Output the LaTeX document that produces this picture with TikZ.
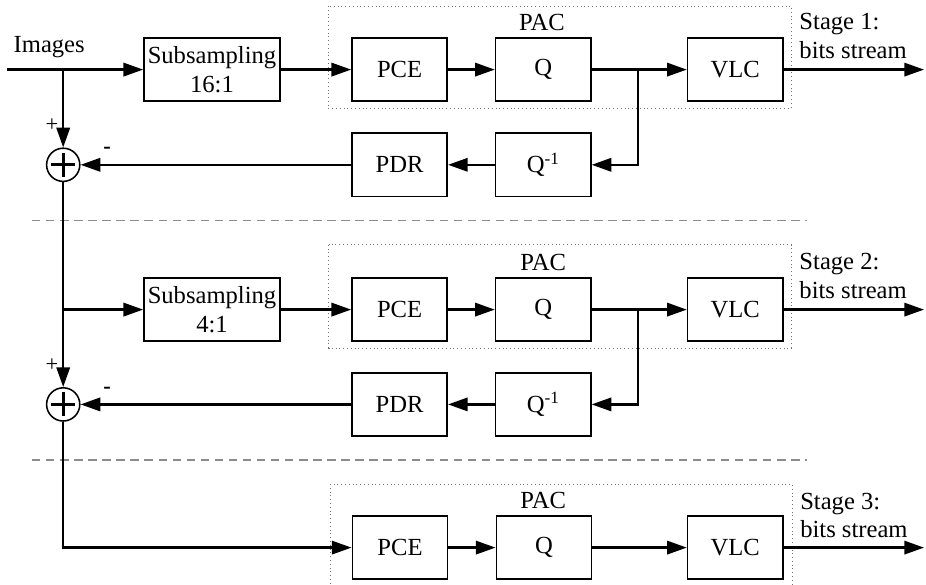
\documentclass[tikz,border=0pt]{standalone}
\usepackage{fontspec}
\setmainfont{Liberation Serif}
\usetikzlibrary{arrows.meta}

\begin{document}
\begin{tikzpicture}[
    >={Triangle[length=14pt,width=9.5pt]},
    block/.style={
        draw=black,
        line width=1.2pt,
        minimum width=2.38cm,
        minimum height=1.58cm,
        align=center,
        inner sep=1pt,
        font=\fontsize{17.5}{20.5}\selectfont
    },
    wideblock/.style={block, minimum width=3.4cm},
    adder/.style={
        circle,
        draw=black,
        line width=1.1pt,
        minimum size=0.83cm,
        inner sep=0pt,
        path picture={
            \draw[line width=2pt]
                ([xshift=-0.3cm]path picture bounding box.center) -- ([xshift=0.3cm]path picture bounding box.center)
                ([yshift=-0.3cm]path picture bounding box.center) -- ([yshift=0.3cm]path picture bounding box.center);
        }
    },
    pacbox/.style={draw=black!55, dotted, line width=0.7pt},
    divider/.style={draw=black!45, dash pattern=on 6pt off 4pt, line width=0.8pt},
    txt/.style={font=\fontsize{17.5}{20}\selectfont, align=left, inner sep=0pt},
    sign/.style={font=\fontsize{16}{16}\selectfont, inner sep=0pt},
    arr/.style={->, line width=1.6pt},
    wire/.style={line width=1.6pt}
]
    \useasboundingbox (0,0) rectangle (23.15,-14.6);

    % stage 1
    \draw[pacbox] (8.2,-0.15) rectangle (19.78,-2.7);
    \node[txt] (pac1) at (13.55,-0.55) {PAC};
    \node[txt] (images) at (1.23,-1.17) {Images};
    \coordinate (in) at (0.18,-1.74);
    \coordinate (j1) at (1.58,-1.74);
    \node[wideblock] (sub1) at (5.3,-1.74) {Subsampling\\16:1};
    \node[block] (pce1) at (9.99,-1.74) {PCE};
    \node[block] (q1) at (13.58,-1.74) {Q};
    \coordinate (b1) at (15.95,-1.74);
    \node[block] (vlc1) at (18.38,-1.74) {VLC};
    \coordinate (out1) at (23.1,-1.74);
    \node[txt, anchor=west] (stage1) at (19.98,-0.9) {Stage 1:\\bits stream};

    \node[block] (qi1) at (13.58,-4.12) {Q\textsuperscript{-1}};
    \node[block] (pdr1) at (9.99,-4.12) {PDR};
    \node[adder] (s1) at (1.58,-4.12) {};
    \node[sign] (plus1) at (1.3,-3.14) {+};
    \node[sign] (minus1) at (2.68,-3.76) {\textbf{-}};

    \draw[arr] (in) -- (sub1);
    \draw[arr] (sub1) -- (pce1);
    \draw[arr] (pce1) -- (q1);
    \draw[arr] (q1) -- (vlc1);
    \draw[arr] (vlc1) -- (out1);
    \draw[arr] (j1) -- (s1);
    \draw[arr] (b1) |- (qi1);
    \draw[arr] (qi1) -- (pdr1);
    \draw[arr] (pdr1) -- (s1);

    \draw[divider] (0.8,-5.52) -- (20.18,-5.52);

    % stage 2
    \draw[pacbox] (8.22,-6.12) rectangle (19.78,-8.7);
    \node[txt] (pac2) at (13.58,-6.55) {PAC};
    \coordinate (j2) at (1.58,-7.74);
    \node[wideblock] (sub2) at (5.3,-7.74) {Subsampling\\4:1};
    \node[block] (pce2) at (9.99,-7.74) {PCE};
    \node[block] (q2) at (13.58,-7.74) {Q};
    \coordinate (b2) at (15.95,-7.74);
    \node[block] (vlc2) at (18.38,-7.74) {VLC};
    \coordinate (out2) at (23.1,-7.74);
    \node[txt, anchor=west] (stage2) at (19.98,-6.9) {Stage 2:\\bits stream};

    \node[block] (qi2) at (13.58,-10.11) {Q\textsuperscript{-1}};
    \node[block] (pdr2) at (9.99,-10.11) {PDR};
    \node[adder] (s2) at (1.58,-10.11) {};
    \node[sign] (plus2) at (1.3,-9.14) {+};
    \node[sign] (minus2) at (2.68,-9.75) {\textbf{-}};

    \draw[wire] (s1) -- (j2);
    \draw[arr] (j2) -- (sub2);
    \draw[arr] (sub2) -- (pce2);
    \draw[arr] (pce2) -- (q2);
    \draw[arr] (q2) -- (vlc2);
    \draw[arr] (vlc2) -- (out2);
    \draw[arr] (j2) -- (s2);
    \draw[arr] (b2) |- (qi2);
    \draw[arr] (qi2) -- (pdr2);
    \draw[arr] (pdr2) -- (s2);

    \draw[divider] (0.8,-11.5) -- (20.18,-11.5);

    % stage 3
    \draw[pacbox] (8.25,-12.1) rectangle (19.8,-14.7);
    \node[txt] (pac3) at (13.58,-12.5) {PAC};
    \node[block] (pce3) at (10.0,-13.69) {PCE};
    \node[block] (q3) at (13.6,-13.69) {Q};
    \node[block] (vlc3) at (18.38,-13.69) {VLC};
    \coordinate (out3) at (23.1,-13.69);
    \node[txt, anchor=west] (stage3) at (20.0,-12.88) {Stage 3:\\bits stream};

    \draw[arr] (s2) |- (pce3);
    \draw[arr] (pce3) -- (q3);
    \draw[arr] (q3) -- (vlc3);
    \draw[arr] (vlc3) -- (out3);
\end{tikzpicture}
\end{document}
